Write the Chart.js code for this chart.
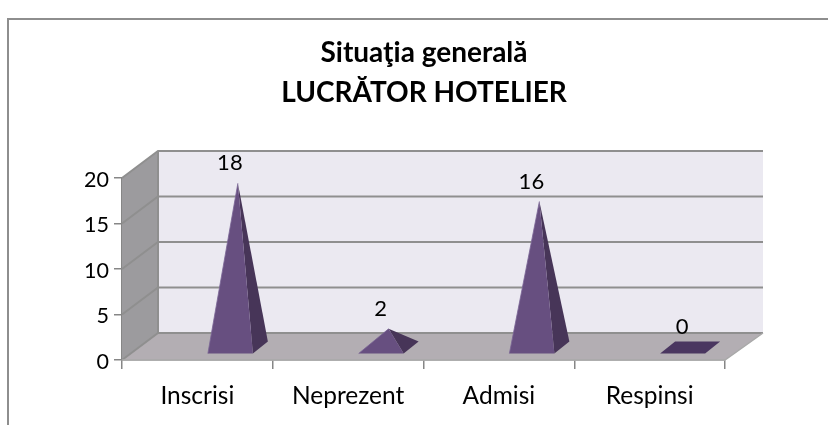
<!DOCTYPE html>
<html>
<head>
<meta charset="utf-8">
<style>html,body{margin:0;padding:0;background:#fff}#w{width:828px;height:425px}</style>
<script src="https://cdn.jsdelivr.net/npm/chart.js@4"></script>
</head>
<body>
<div id="w"><canvas id="c" width="828" height="425"></canvas></div>
<script>
const categories = ["Inscrisi", "Neprezent", "Admisi", "Respinsi"];
const values = [18, 2, 16, 0];
const titleLines = ["Situaţia generală", "LUCRĂTOR HOTELIER"];
const yTicks = [0, 5, 10, 15, 20];

const FONT = "Lato, Carlito, sans-serif";
const DEPTH = {x: 36, y: -27};
const PYR = {dx: 40.5, dy: -13, halfW: 30, front: 6.5, backX: 15, backY: -12};

const scene = {
  id: "scene",
  afterLayout(chart) {
    // centre the title on the page rather than on the plot's padded box
    chart.titleBlock.left = 0;
    chart.titleBlock.right = 848;
  },
  beforeDraw(chart) {
    const c = chart.ctx;
    c.save();
    c.strokeStyle = "#8e8e8e"; c.lineWidth = 2;
    c.beginPath(); c.moveTo(8, 425); c.lineTo(8, 19); c.lineTo(828, 19); c.stroke();
    c.restore();
  },
  beforeDatasetsDraw(chart) {
    const c = chart.ctx, a = chart.chartArea, y = chart.scales.y;
    const L = a.left, R = a.right, T = y.getPixelForValue(20), B = y.getPixelForValue(0);
    const dx = DEPTH.x, dy = DEPTH.y;
    c.save();
    c.fillStyle = "#ebe9f1";
    c.fillRect(L + dx, T + dy, R + 2 - L, B - T);
    c.fillStyle = "#9c9b9e";
    c.beginPath(); c.moveTo(L, T); c.lineTo(L + dx, T + dy); c.lineTo(L + dx, B + dy); c.lineTo(L, B); c.closePath(); c.fill();
    c.fillStyle = "#b3aeb3";
    c.beginPath(); c.moveTo(L, B); c.lineTo(L + dx, B + dy); c.lineTo(R + dx + 2, B + dy); c.lineTo(R, B); c.closePath(); c.fill();
    c.strokeStyle = "#8f8f8f"; c.lineWidth = 2;
    yTicks.forEach(v => {
      const p = y.getPixelForValue(v);
      c.beginPath(); c.moveTo(L, p); c.lineTo(L + dx, p + dy); c.lineTo(R + dx + 2, p + dy); c.stroke();
    });
    c.beginPath(); c.moveTo(L + dx, T + dy); c.lineTo(L + dx, B + dy); c.stroke();
    c.strokeStyle = "#a9a9a9"; c.lineWidth = 1.5;
    c.beginPath(); c.moveTo(L, B); c.lineTo(R, B); c.lineTo(R + dx + 2, B + dy); c.stroke();
    c.restore();
  },
  afterDatasetsDraw(chart) {
    const c = chart.ctx, y = chart.scales.y, zero = y.getPixelForValue(0);
    const bars = chart.getDatasetMeta(0).data;
    c.save();
    bars.forEach((bar, i) => {
      const cx = bar.x + PYR.dx;
      const baseY = zero + PYR.dy;
      const apexY = y.getPixelForValue(values[i]) + PYR.dy;
      const fl = {x: cx - PYR.halfW, y: baseY + PYR.front};
      const fr = {x: cx + PYR.halfW - PYR.backX, y: baseY + PYR.front};
      const br = {x: cx + PYR.halfW, y: baseY + PYR.front + PYR.backY};
      const bl = {x: fl.x + PYR.backX, y: br.y};
      if (values[i] === 0) {
        c.fillStyle = "#4a3660";
        c.beginPath(); c.moveTo(fl.x, fl.y); c.lineTo(fr.x, fr.y); c.lineTo(br.x, br.y); c.lineTo(bl.x, bl.y); c.closePath(); c.fill();
      } else {
        c.fillStyle = "#473558";
        c.beginPath(); c.moveTo(fr.x, fr.y); c.lineTo(br.x, br.y); c.lineTo(cx, apexY); c.closePath(); c.fill();
        c.fillStyle = "#674f80";
        c.strokeStyle = "#7a6596"; c.lineWidth = .8;
        c.beginPath(); c.moveTo(fl.x, fl.y); c.lineTo(fr.x, fr.y); c.lineTo(cx, apexY); c.closePath(); c.fill();
        c.beginPath(); c.moveTo(fl.x, fl.y); c.lineTo(cx, apexY); c.stroke();
      }
      c.fillStyle = "#000";
      c.font = "22px " + FONT;
      c.textAlign = "center"; c.textBaseline = "middle";
      c.fillText(String(values[i]), cx - 8, apexY - 20);
    });
    c.restore();
  }
};

new Chart(document.getElementById("c"), {
  type: "bar",
  data: {
    labels: categories,
    datasets: [{data: values, backgroundColor: "rgba(0,0,0,0)", borderWidth: 0}]
  },
  plugins: [scene],
  options: {
    responsive: false,
    animation: false,
    layout: {padding: {top: 33, right: 103, left: 0, bottom: 0}},
    plugins: {
      legend: {display: false},
      tooltip: {enabled: false},
      title: {
        display: true,
        text: titleLines,
        color: "#000",
        font: {family: FONT, size: 28, weight: "bold", lineHeight: 1.42},
        padding: {top: 0, bottom: 65.5}
      }
    },
    scales: {
      x: {
        afterFit(s) { s.height = 65; },
        border: {color: "#868686", width: 1.5},
        grid: {drawOnChartArea: false, color: "#868686", tickLength: 9, lineWidth: 1.5},
        ticks: {color: "#000", padding: 12, maxRotation: 0, font: {family: FONT, size: 24.5}}
      },
      y: {
        min: 0, max: 20,
        afterFit(s) { s.width = 122; },
        afterBuildTicks(s) { s.ticks = yTicks.map(v => ({value: v})); },
        border: {color: "#868686", width: 1.5},
        grid: {drawOnChartArea: false, color: "#868686", tickLength: 8, lineWidth: 1.5},
        ticks: {color: "#000", padding: 5, labelOffset: 2, font: {family: FONT, size: 21.5}}
      }
    }
  }
});
</script>
</body>
</html>
